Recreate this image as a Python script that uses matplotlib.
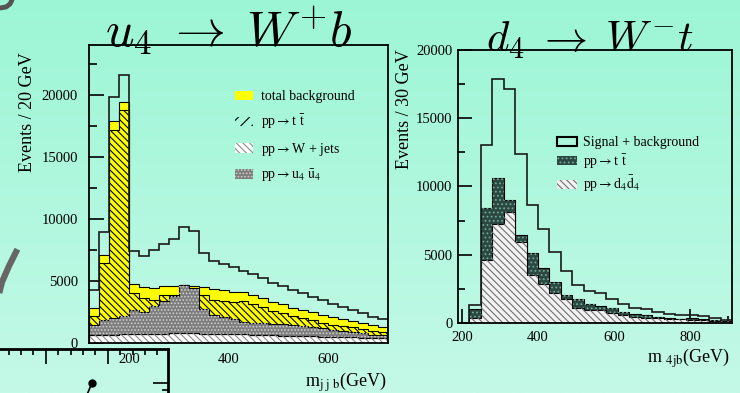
import numpy as np
import matplotlib

matplotlib.use("Agg")
import matplotlib.pyplot as plt
from matplotlib.colors import LinearSegmentedColormap
from matplotlib.patches import Patch
from matplotlib.ticker import MultipleLocator

plt.rcParams['font.family'] = ['Liberation Serif', 'DejaVu Serif']
plt.rcParams['hatch.linewidth'] = 0.8

# left panel: u4 -> W+ b, m_jjb in 20 GeV bins, 120..720 GeV
u4_edges = np.arange(120, 721, 20)
u4_total_bg = [2850, 7100, 17850, 19400, 4730, 4540, 4460, 4600, 4600, 4680,
               4600, 4540, 4350, 4270, 4140, 4100, 3870, 3600, 3280, 3120,
               2850, 2660, 2470, 2260, 2070, 1910, 1775, 1590, 1450, 1315]
u4_ttbar = [2200, 6430, 17180, 18740, 4010, 3600, 3470, 3870, 3850, 3900,
            3850, 3870, 3470, 3390, 3330, 3370, 3120, 2870, 2560, 2420,
            2170, 2000, 1830, 1650, 1480, 1350, 1250, 1100, 1000, 900]
u4_wjets = [650, 670, 680, 690, 720, 740, 750, 760, 770, 800,
            780, 740, 720, 720, 700, 690, 670, 650, 620, 600,
            580, 560, 540, 520, 500, 480, 460, 440, 420, 400]
u4_signal = [1450, 1850, 2000, 2200, 2650, 2500, 3000, 3350, 3750, 4700,
             4420, 2700, 2260, 2100, 1970, 1720, 1650, 1600, 1550, 1500,
             1450, 1380, 1250, 1180, 1060, 980, 850, 800, 620, 640]

# right panel: d4 -> W- t, m_4jb in 30 GeV bins, 190..910 GeV
d4_edges = np.arange(190, 911, 30)
d4_ttbar = [0, 1000, 8400, 10600, 9010, 6450, 5150, 4000, 3030, 2050, 1740, 1390,
            1245, 1075, 830, 640, 600, 450, 400, 300, 330, 300, 220, 100]
d4_signal = [0, 340, 4615, 7250, 8150, 5960, 3520, 2860, 2180, 1740, 1075, 950,
             950, 710, 585, 460, 390, 345, 290, 270, 220, 220, 170, 150]

# fragment of another slide plot, bottom left (pixel coords)
frag_dot_x = [92]
frag_dot_y = [383]

YELLOW = '#ffff00'
GREY = '#7c7c7c'
DARK = '#2b4840'

fig = plt.figure(figsize=(7.4, 3.93), dpi=100)

# slide background
bg = fig.add_axes([0, 0, 1, 1], zorder=-10)
cmap = LinearSegmentedColormap.from_list('mint', ['#9cf6d6', '#c4f9e7'])
bg.imshow(np.linspace(0, 1, 256)[:, None], aspect='auto', cmap=cmap,
          extent=[0, 740, 393, 0])
bg.plot([0, 6, 10, 12], [8, 7, 4, 0], color='#555555', lw=3.5, solid_capstyle='round')
bg.plot([16, 9, 2, 0], [252, 266, 282, 290], color='#666666', lw=4.5)
bg.set_xlim(0, 740)
bg.set_ylim(393, 0)
bg.axis('off')

# ---- left panel
axL = fig.add_axes([89 / 740, 50 / 393, 299 / 740, 298 / 393])
axL.set_facecolor('none')
axL.set_axisbelow(True)
tot_u4 = np.array(u4_total_bg) + np.array(u4_signal)
axL.stairs(u4_total_bg, u4_edges, fill=True, facecolor=YELLOW, edgecolor='black', lw=0.8)
axL.stairs(u4_ttbar, u4_edges, fill=True, facecolor='none', edgecolor='black',
           hatch='\\' * 5, lw=0.8)
axL.stairs(u4_signal, u4_edges, fill=True, facecolor=GREY, edgecolor='black', lw=0.8)
axL.stairs(u4_signal, u4_edges, fill=True, facecolor='none', edgecolor='#d0d0d0',
           hatch='.....', lw=0)
axL.stairs(u4_wjets, u4_edges, fill=True, facecolor='white', edgecolor='black', lw=0.9)
axL.stairs(u4_wjets, u4_edges, fill=True, facecolor='none', edgecolor='#8a8a8a',
           hatch='\\' * 5, lw=0)
axL.stairs(tot_u4, u4_edges, fill=False, color='#1a1a1a', lw=1.2)

axL.set_xlim(120, 720)
axL.set_ylim(0, 24000)
axL.xaxis.set_major_locator(MultipleLocator(200))
axL.xaxis.set_minor_locator(MultipleLocator(100))
axL.yaxis.set_major_locator(MultipleLocator(5000))
axL.yaxis.set_minor_locator(MultipleLocator(2500))
axL.tick_params(which='both', direction='in', width=1.2, labelsize=10.5)
axL.tick_params(which='major', length=10.8)
axL.tick_params(which='minor', length=5.8)
axL.tick_params(axis='y', pad=8)
axL.tick_params(axis='x', pad=7)
for s in axL.spines.values():
    s.set_linewidth(1.3)

handlesL = [
    Patch(facecolor=YELLOW, edgecolor='none'),
    Patch(facecolor='none', edgecolor='black', hatch='///', lw=0),
    Patch(facecolor='white', edgecolor='#8a8a8a', hatch='\\' * 5, lw=0),
    Patch(facecolor=GREY, edgecolor='#d0d0d0', hatch='.....', lw=0),
]
labelsL = ['total background', r'pp$\rightarrow$t $\bar{\rm t}$',
           r'pp$\rightarrow$W + jets', r'pp$\rightarrow$u$_4$ $\bar{\rm u}_4$']
legL = axL.legend(handlesL, labelsL, loc='upper left', bbox_to_anchor=(0.488, 0.848),
                  frameon=False, fontsize=10, handlelength=1.3, handleheight=0.7,
                  handletextpad=0.6, labelspacing=0.68, borderpad=0, borderaxespad=0)
for t in legL.get_texts():
    t.set_math_fontfamily('stix')

# ---- right panel
axR = fig.add_axes([458 / 740, 70 / 393, 274 / 740, 273 / 393])
axR.set_facecolor('none')
axR.set_axisbelow(True)
tot_d4 = np.array(d4_ttbar) + np.array(d4_signal)
axR.stairs(d4_ttbar, d4_edges, fill=True, facecolor=DARK, edgecolor='black', lw=0.8)
axR.stairs(d4_ttbar, d4_edges, fill=True, facecolor='none', edgecolor='#6fa896',
           hatch='....', lw=0)
axR.stairs(d4_signal, d4_edges, fill=True, facecolor='#f2f2f2', edgecolor='black', lw=0.8)
axR.stairs(d4_signal, d4_edges, fill=True, facecolor='none', edgecolor='#707070',
           hatch='\\' * 5, lw=0)
axR.stairs(tot_d4, d4_edges, fill=False, color='#1a1a1a', lw=1.2)

axR.set_xlim(190, 910)
axR.set_ylim(0, 20000)
axR.xaxis.set_major_locator(MultipleLocator(200))
axR.xaxis.set_minor_locator(MultipleLocator(100))
axR.yaxis.set_major_locator(MultipleLocator(5000))
axR.yaxis.set_minor_locator(MultipleLocator(2500))
axR.tick_params(which='both', direction='in', width=1.2, labelsize=10.5)
axR.tick_params(which='major', length=10)
axR.tick_params(which='minor', length=5)
axR.tick_params(axis='y', pad=4)
axR.tick_params(axis='x', pad=6)
for s in axR.spines.values():
    s.set_linewidth(1.3)

handlesR = [
    Patch(facecolor='none', edgecolor='black', lw=1.5),
    Patch(facecolor=DARK, edgecolor='#6fa896', hatch='....', lw=0),
    Patch(facecolor='#f2f2f2', edgecolor='#707070', hatch='\\' * 5, lw=0),
]
labelsR = ['Signal + background', r'pp$\rightarrow$t $\bar{\rm t}$',
           r'pp$\rightarrow$d$_4\bar{\rm d}_4$']
legR = axR.legend(handlesR, labelsR, loc='upper left', bbox_to_anchor=(0.361, 0.685),
                  frameon=False, fontsize=10, handlelength=1.45, handleheight=0.6,
                  handletextpad=0.45, labelspacing=0.22, borderpad=0, borderaxespad=0)
for t in legR.get_texts():
    t.set_math_fontfamily('stix')

# ---- titles and axis labels (glyphs in the slide are wider than CM, so pad the arrow)
fig.text(229 / 740, 1 - 46 / 393, r'$u_4\;\rightarrow\;W^{+}b$', ha='center',
         va='baseline', fontsize=36, math_fontfamily='cm')
fig.text(590 / 740, 1 - 52 / 393, r'$d_4\;\rightarrow\;W^{-}t$', ha='center',
         va='baseline', fontsize=31, math_fontfamily='cm')
fig.text(28 / 740, 1 - 112 / 393, 'Events / 20 GeV', rotation=90, ha='center',
         va='center', fontsize=13)
fig.text(405 / 740, 1 - 109 / 393, 'Events / 30 GeV', rotation=90, ha='center',
         va='center', fontsize=13)
fig.text(387 / 740, 1 - 387 / 393, r'm$_{\rm j\ j\ b}$(GeV)', ha='right',
         va='baseline', fontsize=13, math_fontfamily='stix')
fig.text(730 / 740, 1 - 363 / 393, r'm $_{\rm 4jb}$(GeV)', ha='right',
         va='baseline', fontsize=13, math_fontfamily='stix')

# ---- fragment of a neighbouring plot (bottom left corner)
frag = fig.add_axes([-50 / 740, -50 / 393, 218 / 740, 94 / 393])
frag.set_facecolor('none')
frag.set_xlim(-50, 168)
frag.set_ylim(443, 349)
frag.plot(frag_dot_x + [86], frag_dot_y + [397], color='black', lw=1.2)
frag.plot(frag_dot_x, frag_dot_y, 'o', color='black', ms=5)
for side in ('left', 'bottom'):
    frag.spines[side].set_visible(False)
for side in ('top', 'right'):
    frag.spines[side].set_linewidth(2)
frag.xaxis.set_major_locator(MultipleLocator(62, offset=45.7))
frag.xaxis.set_minor_locator(MultipleLocator(12.4, offset=8.5))
frag.yaxis.set_major_locator(MultipleLocator(100, offset=83))
frag.yaxis.set_minor_locator(MultipleLocator(100, offset=90))
frag.tick_params(which='both', direction='in', top=True, bottom=False, left=False,
                 right=True, labelbottom=False, labelleft=False, width=1.2)
frag.tick_params(which='major', length=11)
frag.tick_params(which='minor', length=4.5)

fig.savefig('out.png', dpi=100)
